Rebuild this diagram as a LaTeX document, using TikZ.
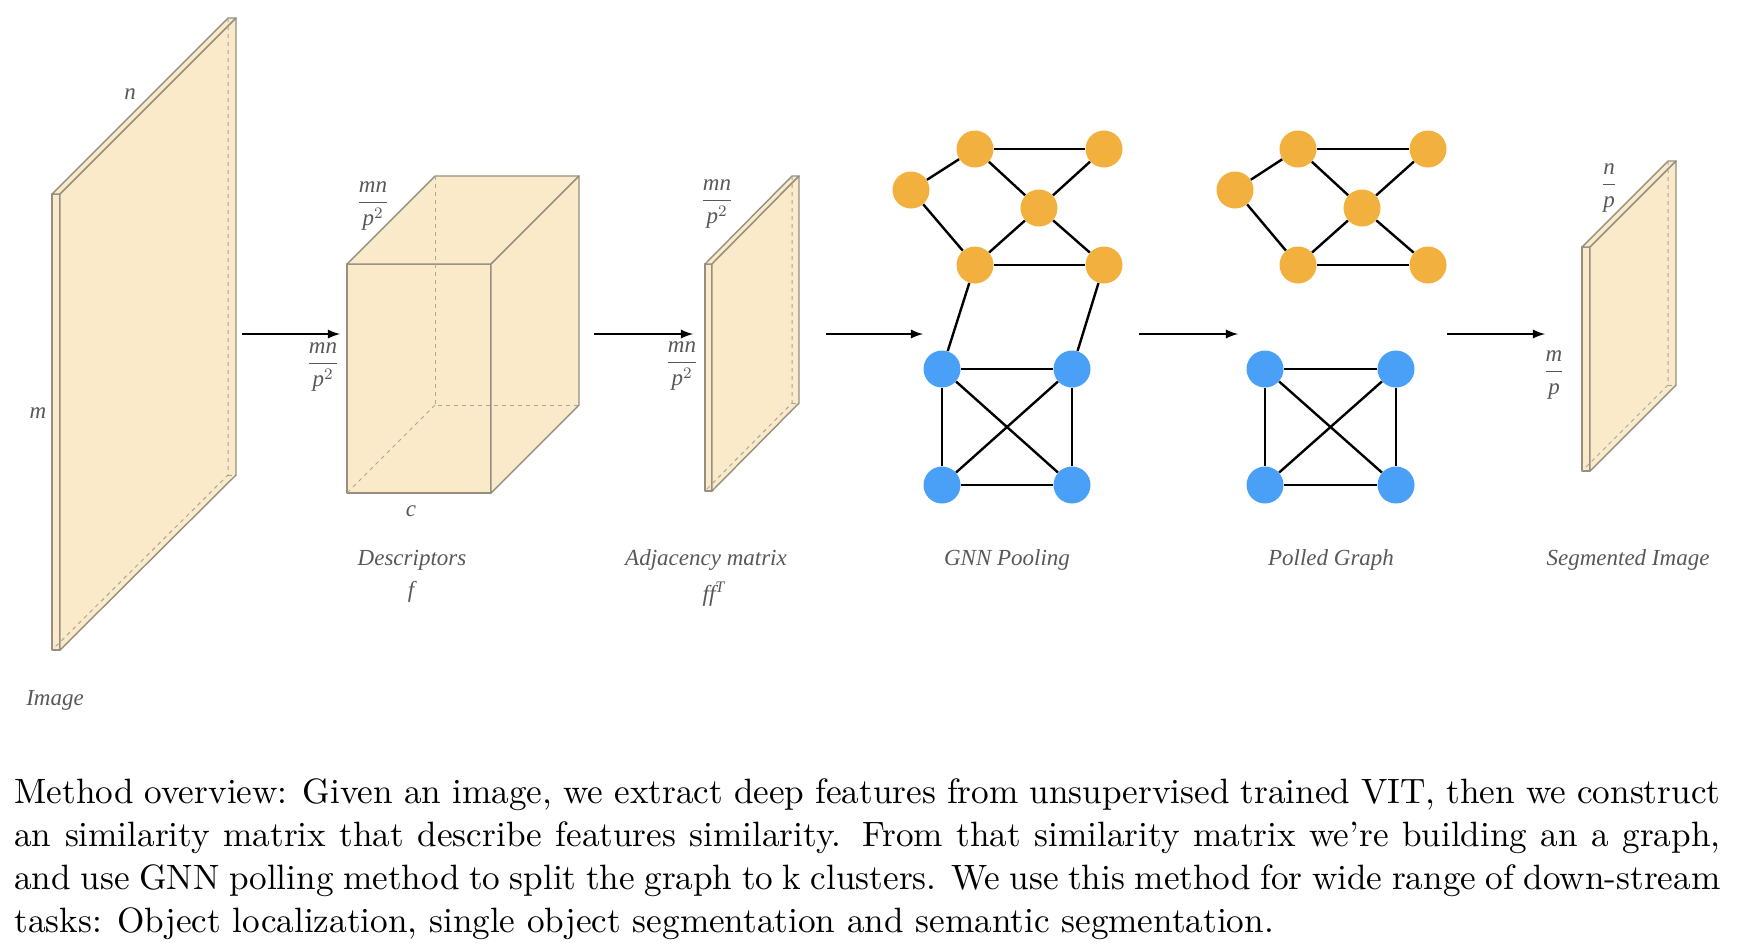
\documentclass[tikz,border=0pt]{standalone}
\usepackage{fontspec}
\newfontfamily\labelfont{Liberation Serif}
\newfontfamily\captionfont[Extension=.otf,Ligatures=TeX]{lmroman10-regular}
\usepackage{tikz}
\usetikzlibrary{arrows}

\definecolor{slabfill}{RGB}{251,234,201}
\definecolor{slabline}{RGB}{150,143,128}
\definecolor{nodeorange}{RGB}{242,177,62}
\definecolor{nodeblue}{RGB}{74,160,246}
\definecolor{labelgrey}{RGB}{88,88,88}

\begin{document}
\begin{tikzpicture}[x=0.5pt,y=-0.5pt,>=latex,
  lbl/.style={text=labelgrey,font=\labelfont\itshape\fontsize{11.5}{13}\selectfont,inner sep=1pt},
  onode/.style={circle,fill=nodeorange,minimum size=18.5pt,inner sep=0pt},
  bnode/.style={circle,fill=nodeblue,minimum size=18.5pt,inner sep=0pt},
  edge/.style={line width=1.2pt},
  slab/.style={fill=slabfill,draw=slabline,line width=0.7pt,line join=round},
  hidden/.style={draw=slabline!80,dashed,dash pattern=on 2pt off 2pt,line width=0.5pt},
  flow/.style={->,line width=1.1pt}]

\useasboundingbox (0,0) rectangle (1738,944);

\filldraw [slab] (52,194) rectangle (60,650);
\filldraw [slab] (52,194) -- (228,18) -- (236,18) -- (60,194) -- cycle;
\filldraw [slab] (60,194) -- (236,18) -- (236,475) -- (60,650) -- cycle;
\draw [hidden] (228,18) -- (228,475) -- (52,650);
\draw [hidden] (228,475) -- (236,475);

\filldraw [slab] (347,264) rectangle (491,493);
\filldraw [slab] (347,264) -- (435,176) -- (579,176) -- (491,264) -- cycle;
\filldraw [slab] (491,264) -- (579,176) -- (579,405) -- (491,493) -- cycle;
\draw [hidden] (435,176) -- (435,405) -- (579,405);
\draw [hidden] (435,405) -- (347,493);

\filldraw [slab] (705,264) rectangle (712,491);
\filldraw [slab] (705,264) -- (792,176) -- (799,176) -- (712,264) -- cycle;
\filldraw [slab] (712,264) -- (799,176) -- (799,403) -- (712,491) -- cycle;
\draw [hidden] (792,176) -- (792,403) -- (705,491);
\draw [hidden] (792,403) -- (799,403);

\filldraw [slab] (1582,247) rectangle (1590,471);
\filldraw [slab] (1582,247) -- (1668,161) -- (1676,161) -- (1590,247) -- cycle;
\filldraw [slab] (1590,247) -- (1676,161) -- (1676,385) -- (1590,471) -- cycle;
\draw [hidden] (1668,161) -- (1668,385) -- (1582,471);
\draw [hidden] (1668,385) -- (1676,385);

\node [lbl] (dimn) at (130,94) {n};
\node [lbl] (dimm) at (38,413) {m};
\node [lbl] (imagelbl) at (55,700) {Image};
\node [lbl] (cubetop) at (373,206) {$\displaystyle\frac{\textit{mn}}{\textit{p}^{2}}$};
\node [lbl] (cubeleft) at (323,367) {$\displaystyle\frac{\textit{mn}}{\textit{p}^{2}}$};
\node [lbl] (dimc) at (411,511) {c};
\node [lbl] (desclbl) at (412,560) {Descriptors};
\node [lbl] (flbl) at (411,592) {f};
\node [lbl] (adjtop) at (717,204) {$\displaystyle\frac{\textit{mn}}{\textit{p}^{2}}$};
\node [lbl] (adjleft) at (682,366) {$\displaystyle\frac{\textit{mn}}{\textit{p}^{2}}$};
\node [lbl] (adjlbl) at (706,560) {Adjacency matrix};
\node [lbl] (fflbl) at (714,594) {ff\textsuperscript{T}};
\node [lbl] (gnnlbl) at (1007,560) {GNN Pooling};
\node [lbl] (polledlbl) at (1331,560) {Polled Graph};
\node [lbl] (segtop) at (1609,188) {$\displaystyle\frac{\textit{n}}{\textit{p}}$};
\node [lbl] (segleft) at (1554,375) {$\displaystyle\frac{\textit{m}}{\textit{p}}$};
\node [lbl] (seglbl) at (1628,560) {Segmented Image};

\coordinate (a1s) at (242,334);
\coordinate (a1e) at (340,334);
\coordinate (a2s) at (594,334);
\coordinate (a2e) at (693,334);
\coordinate (a3s) at (826,334);
\coordinate (a3e) at (923,334);
\coordinate (a4s) at (1139,334);
\coordinate (a4e) at (1238,334);
\coordinate (a5s) at (1447,334);
\coordinate (a5e) at (1545,334);

\draw [flow] (a1s) -- (a1e);
\draw [flow] (a2s) -- (a2e);
\draw [flow] (a3s) -- (a3e);
\draw [flow] (a4s) -- (a4e);
\draw [flow] (a5s) -- (a5e);

\node [onode] (g1) at (975,149) {};
\node [onode] (g2) at (1104,149) {};
\node [onode] (g3) at (911,190) {};
\node [onode] (g4) at (1039,208) {};
\node [onode] (g5) at (975,265) {};
\node [onode] (g6) at (1104,265) {};
\node [bnode] (h1) at (942,369) {};
\node [bnode] (h2) at (1072,369) {};
\node [bnode] (h3) at (942,485) {};
\node [bnode] (h4) at (1072,485) {};

\node [onode] (p1) at (1298,149) {};
\node [onode] (p2) at (1428,149) {};
\node [onode] (p3) at (1235,190) {};
\node [onode] (p4) at (1362,208) {};
\node [onode] (p5) at (1298,265) {};
\node [onode] (p6) at (1428,265) {};
\node [bnode] (q1) at (1265,369) {};
\node [bnode] (q2) at (1396,369) {};
\node [bnode] (q3) at (1265,485) {};
\node [bnode] (q4) at (1396,485) {};

\draw [edge] (g1) -- (g2);
\draw [edge] (g1) -- (g3);
\draw [edge] (g1) -- (g4);
\draw [edge] (g2) -- (g4);
\draw [edge] (g3) -- (g5);
\draw [edge] (g4) -- (g5);
\draw [edge] (g4) -- (g6);
\draw [edge] (g5) -- (g6);
\draw [edge] (g5) -- (h1);
\draw [edge] (g6) -- (h2);
\draw [edge] (h1) -- (h2);
\draw [edge] (h1) -- (h3);
\draw [edge] (h2) -- (h4);
\draw [edge] (h3) -- (h4);
\draw [edge] (h1) -- (h4);
\draw [edge] (h2) -- (h3);

\draw [edge] (p1) -- (p2);
\draw [edge] (p1) -- (p3);
\draw [edge] (p1) -- (p4);
\draw [edge] (p2) -- (p4);
\draw [edge] (p3) -- (p5);
\draw [edge] (p4) -- (p5);
\draw [edge] (p4) -- (p6);
\draw [edge] (p5) -- (p6);
\draw [edge] (q1) -- (q2);
\draw [edge] (q1) -- (q3);
\draw [edge] (q2) -- (q4);
\draw [edge] (q3) -- (q4);
\draw [edge] (q1) -- (q4);
\draw [edge] (q2) -- (q3);

\node [anchor=base west,text width=853pt,align=justify,inner sep=0pt,font=\captionfont\fontsize{17.6}{21.5}\selectfont] (caption) at (14,803) {Method overview: Given an image, we extract deep features from unsupervised trained VIT, then we construct\linebreak an similarity matrix that describe features similarity. From that similarity matrix we're building an a graph,\linebreak and use GNN polling method to split the graph to k clusters. We use this method for wide range of down-stream\linebreak tasks: Object localization, single object segmentation and semantic segmentation.};

\end{tikzpicture}
\end{document}
